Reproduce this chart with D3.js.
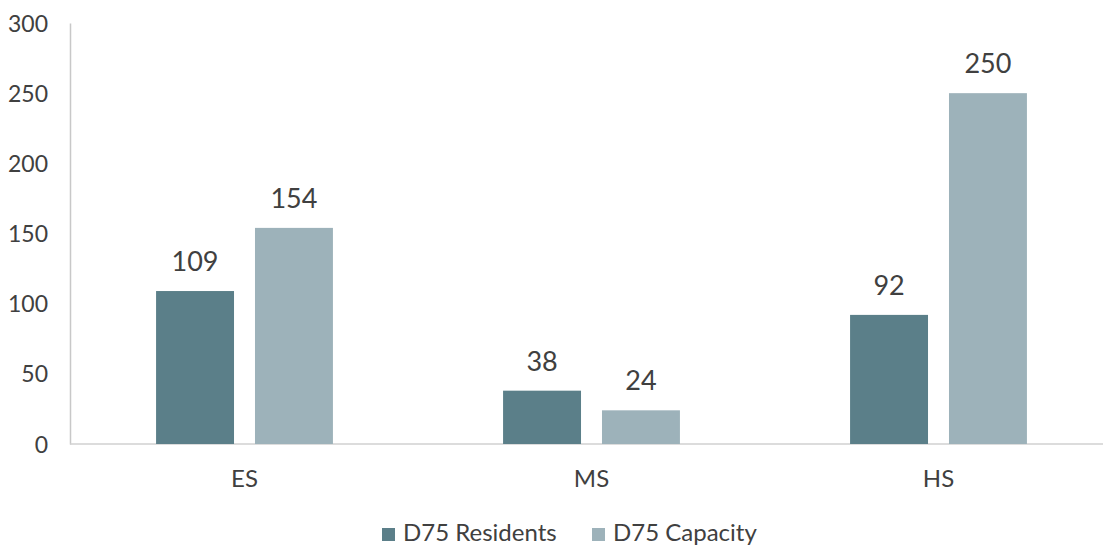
<!DOCTYPE html>
<html lang="en">
<head>
<meta charset="UTF-8">
<title>D75 Residents vs Capacity</title>
<style>
  body { margin: 0; background: #fff; }
  svg text { font-family: "Lato", "Open Sans", sans-serif; fill: #404040; }
</style>
</head>
<body>
<script src="https://cdn.jsdelivr.net/npm/d3@7"></script>
<script>
// data
var categories = ["ES", "MS", "HS"];
var seriesNames = ["D75 Residents", "D75 Capacity"];
var residents = [109, 38, 92];
var capacity = [154, 24, 250];
var yTicks = [0, 50, 100, 150, 200, 250, 300];
var colors = ["#5b7f89", "#9db2ba"];

var width = 1103, height = 548;

var svg = d3.select("body").append("svg")
    .attr("width", width)
    .attr("height", height);

var x = d3.scaleBand().domain(categories).range([71, 1112]);
var xs = d3.scaleBand().domain(seriesNames).range([0, x.bandwidth()])
    .paddingInner(0.212).paddingOuter(0.86);
var y = d3.scaleLinear().domain([0, 300]).range([444, 23]);

var rows = categories.map(function(c, i) {
    return { cat: c, values: [residents[i], capacity[i]] };
});

// y axis
var yAxis = svg.append("g").attr("transform", "translate(70,0)")
    .call(d3.axisLeft(y).tickValues(yTicks).tickSize(0).tickPadding(22));
yAxis.select(".domain").attr("stroke", "#c8c8c8").attr("stroke-width", 1.5);
yAxis.selectAll("text").style("font-size", "23px").attr("dy", "0.35em");

// x axis line
svg.append("line")
    .attr("x1", 70).attr("x2", width)
    .attr("y1", y(0)).attr("y2", y(0))
    .attr("stroke", "#d0d0d0").attr("stroke-width", 1.5);

// bars
var groups = svg.selectAll("g.cat").data(rows).enter().append("g")
    .attr("class", "cat")
    .attr("transform", function(d) { return "translate(" + x(d.cat) + ",0)"; });

groups.selectAll("rect").data(function(d) { return d.values; }).enter().append("rect")
    .attr("x", function(d, i) { return xs(seriesNames[i]); })
    .attr("width", xs.bandwidth())
    .attr("y", function(d) { return y(d); })
    .attr("height", function(d) { return y(0) - y(d); })
    .attr("fill", function(d, i) { return colors[i]; });

groups.selectAll("text.val").data(function(d) { return d.values; }).enter().append("text")
    .attr("class", "val")
    .attr("x", function(d, i) { return xs(seriesNames[i]) + xs.bandwidth() / 2; })
    .attr("y", function(d) { return y(d) - 20; })
    .attr("text-anchor", "middle")
    .style("font-size", "27px")
    .text(function(d) { return d; });

// category labels
svg.selectAll("text.cat").data(categories).enter().append("text")
    .attr("class", "cat")
    .attr("x", function(d) { return x(d) + x.bandwidth() / 2; })
    .attr("y", 487)
    .attr("text-anchor", "middle")
    .style("font-size", "24px")
    .text(function(d) { return d; });

// legend
var legendX = [382, 592];
var legend = svg.selectAll("g.legend").data(seriesNames).enter().append("g")
    .attr("class", "legend")
    .attr("transform", function(d, i) { return "translate(" + legendX[i] + ",528)"; });
legend.append("rect").attr("width", 13).attr("height", 13)
    .attr("fill", function(d, i) { return colors[i]; });
legend.append("text").attr("x", 21).attr("y", 13)
    .style("font-size", "24px")
    .text(function(d) { return d; });
</script>
</body>
</html>
